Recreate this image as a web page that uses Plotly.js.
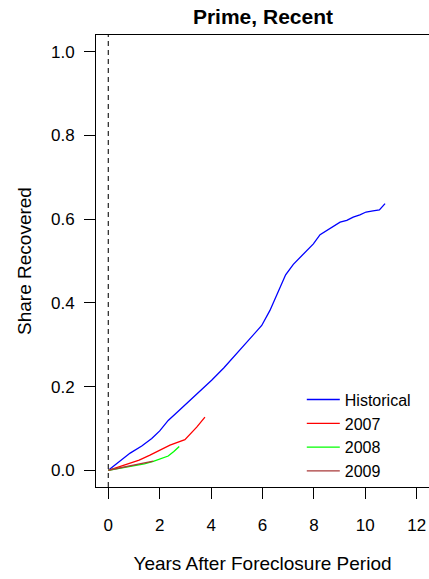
<!DOCTYPE html>
<html>
<head>
<meta charset="utf-8">
<script src="https://cdn.plot.ly/plotly-3.0.1.min.js"></script>
<style>html,body{margin:0;padding:0;background:#fff;}#chart{width:429px;height:579px;}</style>
</head>
<body>
<div id="chart"></div>
<script>
const histX = [0, 0.4, 0.85, 1.3, 1.69, 2.0, 2.33, 2.7, 3.18, 3.6, 4.02, 4.5, 4.86, 5.4, 5.97, 6.29, 6.62, 6.9, 7.2, 7.46, 7.98, 8.24, 8.63, 9.02, 9.28, 9.53, 9.79, 10.03, 10.3, 10.55, 10.77];
const histY = [0, 0.02, 0.041, 0.058, 0.076, 0.094, 0.119, 0.14, 0.167, 0.19, 0.215, 0.245, 0.27, 0.305, 0.346, 0.382, 0.43, 0.467, 0.492, 0.509, 0.541, 0.563, 0.578, 0.593, 0.597, 0.605, 0.61, 0.617, 0.62, 0.622, 0.637];
const y2007X = [0, 0.71, 1.2, 1.62, 2.0, 2.4, 2.98, 3.2, 3.44, 3.76];
const y2007Y = [0, 0.014, 0.024, 0.036, 0.047, 0.06, 0.073, 0.087, 0.103, 0.127];
const y2008X = [0, 0.5, 0.97, 1.4, 1.75, 2.05, 2.33, 2.55, 2.76];
const y2008Y = [0, 0.005, 0.0095, 0.015, 0.021, 0.027, 0.034, 0.045, 0.057];
const y2009X = [0, 0.4, 0.71, 1.2, 1.75];
const y2009Y = [0, 0.005, 0.008, 0.014, 0.022];
const seriesNames = ["Historical", "2007", "2008", "2009"];
const seriesColors = ["#0000FF", "#FF0000", "#00FF00", "#A83838"];
const xTicks = [0, 2, 4, 6, 8, 10, 12];
const yTicks = [0, 0.2, 0.4, 0.6, 0.8, 1.0];
const yTickText = ["0.0", "0.2", "0.4", "0.6", "0.8", "1.0"];

const xs = [histX, y2007X, y2008X, y2009X];
const ys = [histY, y2007Y, y2008Y, y2009Y];
const traces = seriesNames.map((n, i) => ({
  x: xs[i], y: ys[i], name: n, type: "scatter", mode: "lines",
  line: {color: seriesColors[i], width: 1.3}
}));

const font = "Liberation Sans, Arial, Helvetica, sans-serif";
const layout = {
  width: 429, height: 579,
  margin: {l: 96, r: 0, t: 35, b: 92, pad: 0},
  paper_bgcolor: "#ffffff", plot_bgcolor: "#ffffff",
  font: {family: font, color: "#000", size: 17},
  title: {text: "<b>Prime, Recent</b>", font: {family: font, size: 21, color: "#000"}, x: 0.613, xanchor: "center", y: 0.971, yanchor: "middle"},
  xaxis: {
    range: [-0.48, 12.48], tickvals: xTicks, ticktext: xTicks.map(String),
    showgrid: false, zeroline: false, showline: true, mirror: true, linecolor: "#000", linewidth: 1,
    ticks: "outside", ticklen: 11, tickcolor: "#000", tickwidth: 1, ticklabelstandoff: 12,
    tickfont: {size: 17, family: font, color: "#000"},
    title: {text: "Years After Foreclosure Period", font: {size: 19, family: font, color: "#000"}, standoff: 22}
  },
  yaxis: {
    range: [-0.04, 1.04], tickvals: yTicks, ticktext: yTickText,
    showgrid: false, zeroline: false, showline: true, mirror: true, linecolor: "#000", linewidth: 1,
    ticks: "outside", ticklen: 11, tickcolor: "#000", tickwidth: 1, ticklabelstandoff: 6,
    tickfont: {size: 17, family: font, color: "#000"},
    title: {text: "Share Recovered", font: {size: 19, family: font, color: "#000"}, standoff: 14}
  },
  showlegend: true,
  legend: {x: 0.618, y: 0.231, xanchor: "left", yanchor: "top", bgcolor: "rgba(0,0,0,0)", borderwidth: 0,
    font: {size: 16, family: font, color: "#000"}, itemwidth: 33, tracegroupgap: 0},
  shapes: [{type: "line", xref: "x", yref: "paper", x0: 0, x1: 0, y0: 0, y1: 1,
    line: {color: "#333", width: 1.3, dash: "5px,4px"}, layer: "below"}]
};
Plotly.newPlot("chart", traces, layout, {staticPlot: true, displayModeBar: false});
</script>
</body>
</html>
